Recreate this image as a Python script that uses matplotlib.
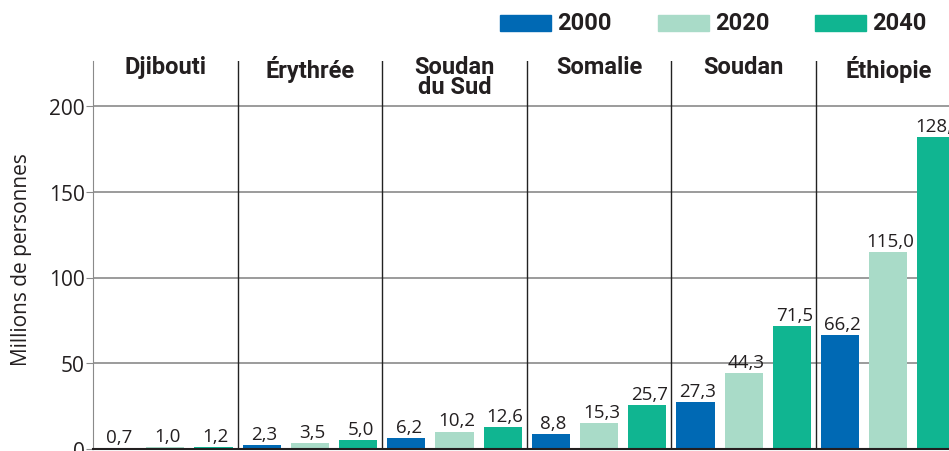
import matplotlib
matplotlib.use("Agg")
import matplotlib.pyplot as plt
import numpy as np

pays = ["Djibouti", "Érythrée", "Soudan\ndu Sud", "Somalie", "Soudan", "Éthiopie"]
annees = ["2000", "2020", "2040"]
couleurs = ["#0069b4", "#a9dbc8", "#10b591"]

v2000 = [0.7, 2.3, 6.2, 8.8, 27.3, 66.2]
v2020 = [1.0, 3.5, 10.2, 15.3, 44.3, 115.0]
v2040 = [1.2, 5.0, 12.6, 25.7, 71.5, 182.0]
# etiquettes telles qu'imprimees sur le graphique
e2000 = ["0,7", "2,3", "6,2", "8,8", "27,3", "66,2"]
e2020 = ["1,0", "3,5", "10,2", "15,3", "44,3", "115,0"]
e2040 = ["1,2", "5,0", "12,6", "25,7", "71,5", "128,6"]

yticks = [0, 50, 100, 150, 200]

police = ["Open Sans", "DejaVu Sans"]
police_gras = ["Roboto", "DejaVu Sans"]

fig = plt.figure(figsize=(9.49, 4.52), dpi=100)
ax = fig.add_axes([93/949, 2/452, 1 - 93/949, 388/452])

ymax = 388 / 1.715
xmax = -0.5 + 856 / 48.2
ax.set_xlim(-0.5, xmax)
ax.set_ylim(0, ymax)

for y in yticks[1:]:
    ax.axhline(y, color="#8a8a8a", lw=1.2, zorder=1)
for i in range(1, len(pays)):
    ax.axvline(i*3 - 0.5, color="#222222", lw=1.0, zorder=1)

series = [v2000, v2020, v2040]
etiq = [e2000, e2020, e2040]
x = np.arange(len(pays)) * 3
for k in range(3):
    ax.bar(x + k, series[k], width=0.79, color=couleurs[k], zorder=2)
    for xi, v, t in zip(x + k, series[k], etiq[k]):
        ax.text(xi + 0.05, v + 1.2, t, ha="center", va="bottom", fontsize=13.5,
                family=police, color="#231f20", zorder=3)

for i, p in enumerate(pays):
    ax.text(i*3 + 1, 230, p, ha="center", va="top", fontsize=17,
            family=police_gras, fontweight="bold", color="#231f20",
            linespacing=0.85, clip_on=False)

ax.spines["top"].set_visible(False)
ax.spines["right"].set_visible(False)
ax.spines["left"].set_color("#8a8a8a")
ax.spines["left"].set_bounds(0, ymax)
ax.spines["bottom"].set_color("#231f20")
ax.spines["bottom"].set_linewidth(1.5)
ax.set_xticks([])
ax.set_yticks(yticks)
ax.set_yticklabels([str(v) for v in yticks], family=police, fontsize=15, color="#231f20")
ax.tick_params(axis="y", length=5, color="#8a8a8a", pad=1)
ax.set_ylabel("Millions de personnes", family=police, fontsize=15, color="#231f20")
ax.yaxis.set_label_coords(-61/856, 0.49)

# legende en haut a droite
lx = [500, 658, 815]
for k in range(3):
    fig.patches.append(plt.Rectangle((lx[k]/949, 1 - 32/452), 51/949, 16/452,
                                     transform=fig.transFigure, color=couleurs[k]))
    fig.text((lx[k] + 57)/949, 1 - 24/452, annees[k], ha="left", va="center",
             fontsize=17, family=police_gras, fontweight="bold", color="#231f20")

fig.savefig("out.png", dpi=100)
